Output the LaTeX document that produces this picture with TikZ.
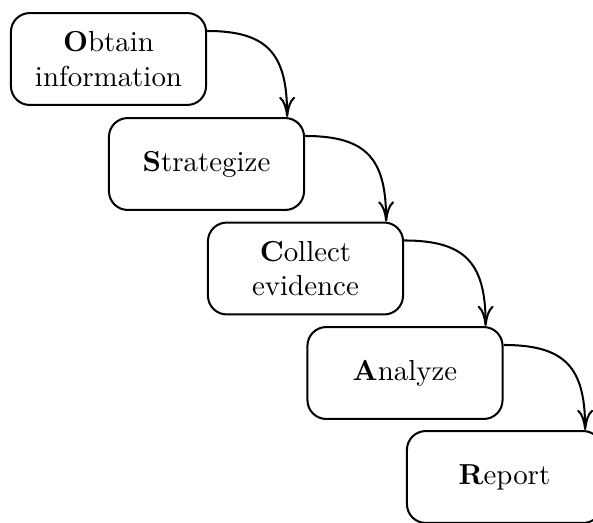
\documentclass[tikz,border=0pt]{standalone}
\usetikzlibrary{arrows.meta}
\begin{document}
\begin{tikzpicture}[x=0.346pt,y=-0.346pt,
  stage/.style={draw, line width=0.7pt, rounded corners=6.5pt,
    minimum width=67.5pt, minimum height=31.8pt, align=center, inner sep=0pt},
  flow/.style={line width=0.7pt,
    -{Computer Modern Rightarrow[length=7pt,width=5.5pt]},
    out=0, in=90, looseness=1.35}]
\useasboundingbox (0,0) rectangle (593,523);
\node[stage] (o) at (108.5,59)   {\textbf{O}btain\\information};
\node[stage] (s) at (206.5,164)  {\textbf{S}trategize};
\node[stage] (c) at (305.5,268.5){\textbf{C}ollect\\evidence};
\node[stage] (a) at (405,373)    {\textbf{A}nalyze};
\node[stage] (r) at (504.5,477)  {\textbf{R}eport};
\draw[flow] ([yshift=9.7pt]o.east) to ([xshift=27.9pt]s.north);
\draw[flow] ([yshift=9.7pt]s.east) to ([xshift=27.9pt]c.north);
\draw[flow] ([yshift=9.7pt]c.east) to ([xshift=27.9pt]a.north);
\draw[flow] ([yshift=9.7pt]a.east) to ([xshift=27.9pt]r.north);
\end{tikzpicture}
\end{document}
